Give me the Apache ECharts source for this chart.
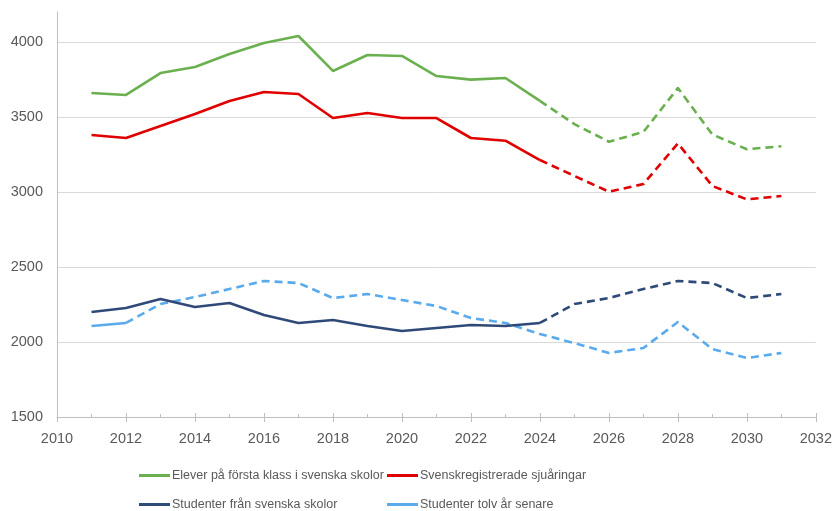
<!DOCTYPE html>
<html>
<head>
<meta charset="utf-8">
<script src="https://cdn.jsdelivr.net/npm/echarts@6/dist/echarts.min.js"></script>
<style>
  html, body { margin: 0; padding: 0; background: #fff; }
  #chart { width: 835px; height: 511px; }
</style>
</head>
<body>
<div id="chart"></div>
<script>
// Years on the horizontal axis
const years = [2011, 2012, 2013, 2014, 2015, 2016, 2017, 2018, 2019, 2020, 2021,
               2022, 2023, 2024, 2025, 2026, 2027, 2028, 2029, 2030, 2031];

// Elever på första klass i svenska skolor
const eleverForstaKlass = [3660, 3647, 3793, 3833, 3920, 3993, 4040, 3807, 3913, 3907, 3773,
                           3749, 3760, 3607, 3453, 3335, 3400, 3693, 3383, 3285, 3305];
// Svenskregistrerade sjuåringar
const sjuaringar = [3380, 3360, 3440, 3520, 3607, 3667, 3653, 3493, 3527, 3493, 3493,
                    3360, 3342, 3213, 3107, 3002, 3053, 3324, 3040, 2951, 2973];
// Studenter från svenska skolor
const studenterSvenska = [2200, 2227, 2287, 2233, 2260, 2180, 2127, 2147, 2107, 2073, 2093,
                          2113, 2107, 2127, 2253, 2293, 2353, 2407, 2393, 2293, 2320];
// Studenter tolv år senare
const studenterTolvAr = [2107, 2127, 2253, 2300, 2353, 2407, 2393, 2293, 2320, 2280, 2240,
                         2160, 2127, 2053, 1993, 1927, 1960, 2133, 1953, 1893, 1927];

const names = [
  'Elever på första klass i svenska skolor',
  'Svenskregistrerade sjuåringar',
  'Studenter från svenska skolor',
  'Studenter tolv år senare'
];
const colors = ['#6AB04F', '#E00000', '#2F4A78', '#5AAAEC'];
const values = [eleverForstaKlass, sjuaringar, studenterSvenska, studenterTolvAr];
// last year drawn with a solid line (dashed afterwards)
const solidUntil = [2024, 2024, 2024, 2012];

const textColor = '#595959';
const font = 'Liberation Sans';

const series = [];
values.forEach((vals, i) => {
  const solid = years.map((y, k) => [y, y <= solidUntil[i] ? vals[k] : null]);
  const dashed = years.map((y, k) => [y, y >= solidUntil[i] ? vals[k] : null]);
  const common = {
    type: 'line',
    name: names[i],
    showSymbol: false,
    symbol: 'none',
    color: colors[i],
    xAxisIndex: 0,
    connectNulls: false,
    animation: false,
    z: 5 - i
  };
  series.push(Object.assign({}, common, {
    data: solid,
    lineStyle: { color: colors[i], width: 2.6, type: 'solid', cap: 'butt', join: 'round' }
  }));
  series.push(Object.assign({}, common, {
    data: dashed,
    lineStyle: { color: colors[i], width: 2.6, type: [8, 5], cap: 'butt', join: 'round' }
  }));
});

function legendAt(name, left, top) {
  return {
    data: [name],
    left: left,
    top: top,
    icon: 'rect',
    itemWidth: 31,
    itemHeight: 3,
    itemGap: 0,
    padding: 0,
    textStyle: { color: textColor, fontFamily: font, fontSize: 12.5, padding: [0, 0, 0, -3] },
    selectedMode: false
  };
}

const plain = v => String(v);

const chart = echarts.init(document.getElementById('chart'), null, { renderer: 'canvas' });
chart.setOption({
  backgroundColor: '#ffffff',
  animation: false,
  grid: { left: 57, right: 17, top: 12, bottom: 94, containLabel: false },
  legend: [
    legendAt(names[0], 139, 469),
    legendAt(names[1], 387, 469),
    legendAt(names[2], 139, 498),
    legendAt(names[3], 387, 498)
  ],
  xAxis: [
    {
      type: 'value',
      min: 2010,
      max: 2032,
      interval: 2,
      axisLine: { show: true, lineStyle: { color: '#BFBFBF', width: 1 } },
      axisTick: { show: true, inside: false, length: 5, lineStyle: { color: '#BFBFBF' } },
      axisLabel: { color: textColor, fontFamily: font, fontSize: 14.5, margin: 14, formatter: plain },
      splitLine: { show: false }
    },
    {
      type: 'value',
      position: 'bottom',
      min: 2010,
      max: 2032,
      interval: 2,
      axisLine: { show: false },
      axisTick: { show: true, inside: true, length: 4, lineStyle: { color: '#BFBFBF' } },
      minorTick: { show: true, splitNumber: 2, length: 3, lineStyle: { color: '#BFBFBF' } },
      axisLabel: { show: false },
      splitLine: { show: false }
    }
  ],
  yAxis: {
    type: 'value',
    min: 1500,
    max: 4200,
    interval: 500,
    axisLine: { show: true, lineStyle: { color: '#BFBFBF', width: 1 } },
    axisTick: { show: false },
    axisLabel: { color: textColor, fontFamily: font, fontSize: 14.5, margin: 14, showMaxLabel: false, formatter: plain },
    splitLine: { show: true, showMaxLine: false, showMinLine: false, lineStyle: { color: '#D9D9D9', width: 1 } }
  },
  series: series
});
</script>
</body>
</html>
